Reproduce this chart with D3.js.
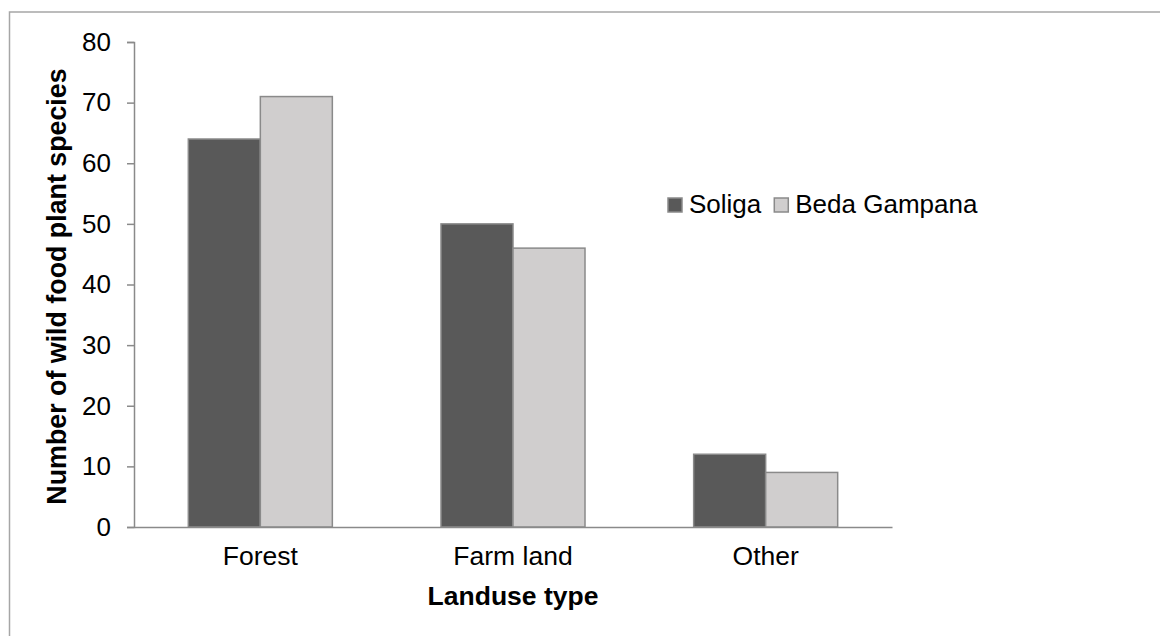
<!DOCTYPE html>
<html>
<head>
<meta charset="utf-8">
<script src="https://cdn.jsdelivr.net/npm/d3@7"></script>
<style>
  html, body { margin: 0; padding: 0; background: #fff; }
  svg { display: block; font-family: "Liberation Sans", Arial, sans-serif; }
</style>
</head>
<body>
<svg id="chart" width="1160" height="636"></svg>
<script>
// Wild food plant species recorded per land-use type
const categories = ["Forest", "Farm land", "Other"];
const seriesNames = ["Soliga", "Beda Gampana"];
const soliga = [64, 50, 12];
const bedaGampana = [71, 46, 9];
const yTicks = [0, 10, 20, 30, 40, 50, 60, 70, 80];
const seriesColors = ["#595959", "#d0cece"];

const svg = d3.select("#chart");
const margin = { left: 134, right: 268, top: 42, bottom: 109 };
const W = 1160, H = 636;
const innerW = W - margin.left - margin.right;
const innerH = H - margin.top - margin.bottom;
const FONT = "Liberation Sans, Arial, sans-serif";

// Outer chart frame
svg.append("rect")
  .attr("x", 9.5).attr("y", 12)
  .attr("width", W).attr("height", H)
  .attr("fill", "none").attr("stroke", "#a6a6a6").attr("stroke-width", 1.5);

const g = svg.append("g").attr("transform", `translate(${margin.left},${margin.top})`);

const x0 = d3.scaleBand().domain(categories).range([0, innerW]).paddingInner(0.43).paddingOuter(0.215);
const x1 = d3.scaleBand().domain(seriesNames).range([0, x0.bandwidth()]);
const y = d3.scaleLinear().domain([0, 80]).range([innerH, 0]);

const table = categories.map((c, i) => ({ cat: c, values: [soliga[i], bedaGampana[i]] }));

// Bars
const groups = g.selectAll(".cat").data(table).enter().append("g")
  .attr("transform", d => `translate(${x0(d.cat)},0)`);
groups.selectAll("rect").data(d => d.values.map((v, j) => ({ name: seriesNames[j], v, j })))
  .enter().append("rect")
  .attr("x", d => x1(d.name))
  .attr("y", d => y(d.v))
  .attr("width", x1.bandwidth())
  .attr("height", d => y(0) - y(d.v))
  .attr("fill", d => seriesColors[d.j])
  .attr("stroke", "#8a8a8a").attr("stroke-width", 1.5);

// Y axis
const yAxis = g.append("g").call(d3.axisLeft(y).tickValues(yTicks).tickSize(7).tickPadding(16));
yAxis.select(".domain").attr("stroke", "#8a8a8a").attr("stroke-width", 1.5);
yAxis.selectAll(".tick line").attr("stroke", "#8a8a8a").attr("stroke-width", 1.5);
yAxis.selectAll(".tick text").attr("font-size", 26).attr("fill", "#000").attr("font-family", FONT);

// X axis
const xAxis = g.append("g").attr("transform", `translate(0,${innerH})`)
  .call(d3.axisBottom(x0).tickSize(0).tickPadding(19));
xAxis.select(".domain").attr("stroke", "#8a8a8a").attr("stroke-width", 1.5);
xAxis.selectAll(".tick text").attr("font-size", 26.5).attr("fill", "#000").attr("font-family", FONT);

// Axis titles
svg.append("text")
  .attr("x", margin.left + innerW / 2).attr("y", 605)
  .attr("text-anchor", "middle").attr("font-size", 26.5).attr("font-weight", "bold")
  .text("Landuse type");
svg.append("text")
  .attr("transform", `translate(66,${margin.top + innerH / 2 + 2}) rotate(-90)`)
  .attr("text-anchor", "middle").attr("font-size", 26.8).attr("font-weight", "bold")
  .text("Number of wild food plant species");

// Legend
const legend = svg.append("g").attr("transform", "translate(668,198)");
let lx = 0;
seriesNames.forEach((name, j) => {
  const item = legend.append("g").attr("transform", `translate(${lx},0)`);
  item.append("rect").attr("width", 14).attr("height", 14)
    .attr("fill", seriesColors[j]).attr("stroke", "#8a8a8a").attr("stroke-width", 1.5);
  const t = item.append("text").attr("x", 21).attr("y", 15)
    .attr("font-size", 26).text(name);
  lx += 21 + t.node().getComputedTextLength() + 13;
});
</script>
</body>
</html>
